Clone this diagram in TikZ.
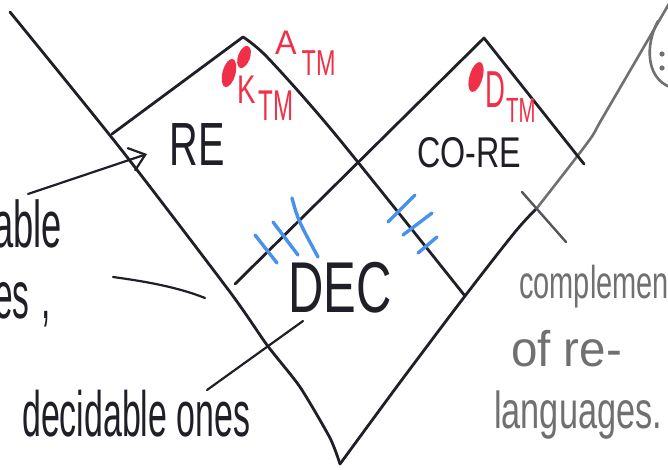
\documentclass[tikz,border=0pt]{standalone}
\usepackage{fontspec}
\setmainfont{Liberation Sans}
\usepackage{graphicx}
\usetikzlibrary{arrows.meta}
\definecolor{ink}{RGB}{32,30,38}
\definecolor{pencil}{RGB}{112,112,112}
\definecolor{pencildark}{RGB}{85,85,90}
\definecolor{redmark}{RGB}{240,48,72}
\definecolor{bluemark}{RGB}{72,146,236}
\newcommand{\hw}[3]{\scalebox{#1}[1]{\fontsize{#2}{#2}\selectfont #3}}
\begin{document}
\begin{tikzpicture}[x=1pt,y=-1pt,
  pen/.style={draw=ink,line width=2.8pt,line cap=round,line join=round},
  thinpen/.style={draw=ink,line width=2.2pt,line cap=round,line join=round},
  greypen/.style={draw=pencil,line width=2.6pt,line cap=round,line join=round},
  hatch/.style={draw=bluemark,line width=3.4pt,line cap=round},
  lbl/.style={inner sep=0pt,text=ink},
  redlbl/.style={inner sep=0pt,text=redmark,anchor=base west},
  greylbl/.style={inner sep=0pt,text=pencil,anchor=base west}]
\useasboundingbox (0,0) rectangle (668,469);
\clip (0,0) rectangle (668,469);
\fill[white] (0,0) rectangle (668,469);

% vertices
\coordinate (Ltop) at (10,12);
\coordinate (apex) at (340,464);
\coordinate (reTop) at (243,37);
\coordinate (reL) at (112,134);
\coordinate (reR) at (465,296);
\coordinate (coTop) at (484,38);
\coordinate (coL) at (235,284);
\coordinate (coR) at (584,164);
\coordinate (Rmid) at (537,208);
\coordinate (Rtop) at (670,2);

% long lines
\draw[pen] plot[smooth,tension=0.4] coordinates {(Ltop) (120,148) (230,292) (267,345) (300,387) (330,438) (apex)};
\draw[pen] plot[smooth,tension=0.5] coordinates {(apex) (401,381) (reR) (515,232) (Rmid)};
\draw[greypen] plot[smooth,tension=0.5] coordinates {(Rmid) (588,142) (603,117) (Rtop)};

% RE diamond
\draw[pen] (reL) -- (reTop);
\draw[pen] plot[smooth,tension=0.5] coordinates {(reTop) (268,58) (335,134) (reR)};
% co-RE diamond
\draw[pen] (coL) -- (coTop) -- (coR);

% blue hatch marks
\draw[hatch] (255,235) -- (277,263);
\draw[hatch] (273,222) -- (298,255);
\draw[hatch] (292,198) .. controls (298,220) .. (318,257);
\draw[hatch] (388,222) -- (415,195);
\draw[hatch] (403,235) -- (432,213);
\draw[hatch] (418,253) -- (437,237);

% red dots
\fill[redmark, rotate around={-20:(244,57)}] (244,57) ellipse [x radius=6pt, y radius=11.5pt];
\fill[redmark, rotate around={-15:(229,73)}] (229,73) ellipse [x radius=6.5pt, y radius=14.5pt];
\fill[redmark, rotate around={-16:(476,77)}] (476,77) ellipse [x radius=6.5pt, y radius=15.5pt];

% labels
\node[lbl] (re) at (197,145) {\hw{0.65}{61}{RE}};
\node[lbl] (core) at (469,153) {\hw{0.75}{43}{CO-RE}};
\node[lbl] (dec) at (340,288) {\hw{0.68}{72}{DEC}};
\node[redlbl] (atm) at (275,54) {\hw{0.95}{34}{A}\hspace{5pt}\raisebox{-21pt}{\hw{0.65}{36}{TM}}};
\node[redlbl] (ktm) at (237,103) {\hw{0.69}{40}{K}\hspace{3pt}\raisebox{-17pt}{\hw{0.56}{43}{TM}}};
\node[redlbl] (dtm) at (485,107) {\hw{0.53}{52}{D}\hspace{1pt}\raisebox{-15pt}{\hw{0.58}{35}{TM}}};

\node[lbl,anchor=base east] (able) at (62,247) {\hw{0.55}{66}{able}};
\node[lbl,anchor=base west] (langs) at (-6,318) {\hw{0.5}{67}{es}\hspace{12pt}\hw{0.5}{67}{,}};
\node[lbl,anchor=base west] (decones) at (22,436) {\hw{0.53}{64}{decidable ones}};

\node[greylbl] (c1) at (519,298) {\hw{0.63}{46}{complement}};
\node[greylbl] (c2) at (511,366) {\hw{0.95}{50}{of re-}};
\node[greylbl] (c3) at (494,428) {\hw{0.66}{52}{languages.}};

% pointers
\coordinate (arrS) at (28,194);
\coordinate (arrE) at (147,154);
\draw[thinpen,-{Straight Barb[length=15pt,width=24pt]}] (arrS) -- (arrE);
\coordinate (p1s) at (113,277);
\coordinate (p1e) at (205,298);
\draw[thinpen] (p1s) .. controls (150,282) and (180,288) .. (p1e);
\coordinate (p2s) at (207,390);
\coordinate (p2e) at (303,321);
\draw[thinpen] (p2s) -- (p2e);
\coordinate (p3s) at (522,192);
\coordinate (p3e) at (566,242);
\draw[draw=pencildark,line width=2.4pt,line cap=round] (p3s) -- (p3e);

% smiley fragment, top right
\draw[greypen] (658,21) .. controls (645,45) and (646,78) .. (670,87);
\fill[pencil] (662,54) circle (2.6pt);
\fill[pencil] (662,68) circle (2.6pt);
\end{tikzpicture}
\end{document}
